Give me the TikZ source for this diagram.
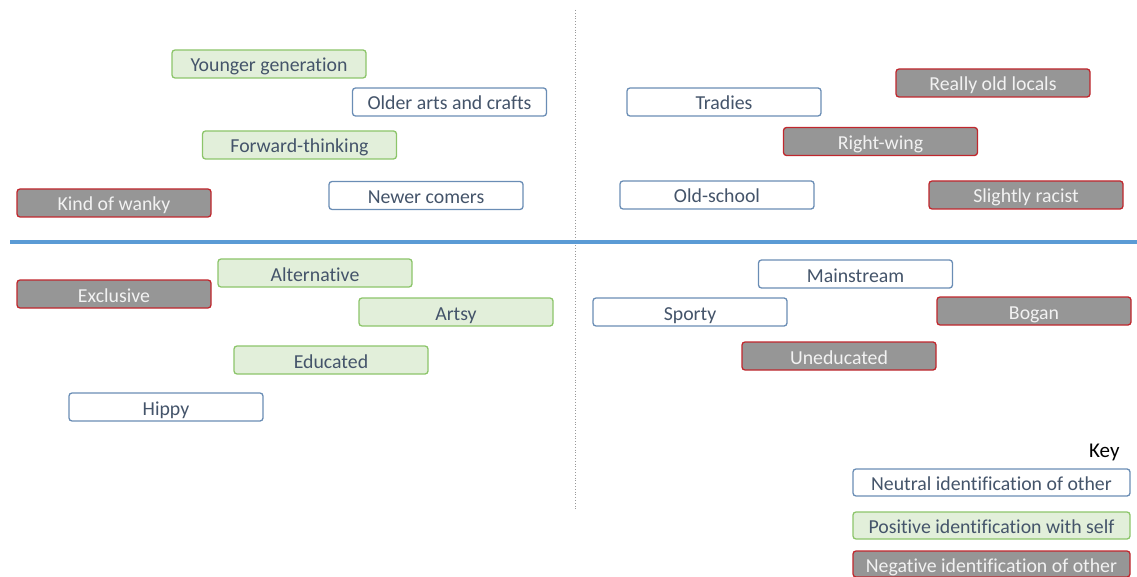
\documentclass[tikz,border=0pt]{standalone}
\usepackage{fontspec}
\setmainfont[Ligatures=NoCommon]{Carlito}
\definecolor{neutb}{HTML}{6A8DB5}
\definecolor{txt}{HTML}{44546A}
\definecolor{posf}{HTML}{E2EFDA}
\definecolor{posb}{HTML}{8CC56A}
\definecolor{negf}{HTML}{969696}
\definecolor{negb}{HTML}{C0272D}
\definecolor{axis}{HTML}{5B9BD5}
\tikzset{
  tagbox/.style={rounded corners=3pt, line width=1.3pt, minimum width=194pt, minimum height=28pt, inner sep=0pt, text height=16pt, text depth=0pt, font=\fontsize{19.8}{22}\selectfont},
  neutbox/.style={tagbox, draw=neutb, fill=white, text=txt},
  posbox/.style={tagbox, draw=posb, fill=posf, text=txt},
  negbox/.style={tagbox, draw=negb, fill=negf, text=white!95!black},
}
\begin{document}
\begin{tikzpicture}[x=1pt,y=-1pt]
\useasboundingbox (0,0) rectangle (1137,577);
\coordinate (vt) at (575,10);
\coordinate (vb) at (575,510);
\coordinate (hl) at (10,242);
\coordinate (hr) at (1137,242);
\draw[gray!80, line width=0.8pt, dotted] (vt) -- (vb);
\draw[axis, line width=4.5pt] (hl) -- (hr);
% top left
\node[posbox]  (yg) at (269,64) {Younger generation};
\node[neutbox] (oac) at (449.5,102) {Older arts and crafts};
\node[posbox]  (ft) at (299.5,145) {Forward-thinking};
\node[negbox] (kw) at (114,203) {Kind of wanky};
\node[neutbox] (nc) at (426,195.5) {Newer comers};
% top right
\node[neutbox] (tr) at (724,102) {Tradies};
\node[negbox] (rol) at (993,83) {Really old locals};
\node[negbox] (rw) at (880.5,141.5) {Right-wing};
\node[neutbox] (os) at (717,195) {Old-school};
\node[negbox] (sr) at (1026,195) {Slightly racist};
% bottom left
\node[posbox]  (alt) at (315,273) {Alternative};
\node[negbox] (exc) at (114,294) {Exclusive};
\node[posbox]  (art) at (456,312) {Artsy};
\node[posbox]  (edu) at (331,360) {Educated};
\node[neutbox] (hip) at (166,407) {Hippy};
% bottom right
\node[neutbox] (ms) at (855.5,274) {Mainstream};
\node[neutbox] (sp) at (690,312) {Sporty};
\node[negbox] (bog) at (1034,311) {Bogan};
\node[negbox] (une) at (839,356) {Uneducated};
% key
\node[anchor=east, font=\fontsize{21}{24}\selectfont, text=black] (key) at (1123,452) {Key};
\node[neutbox, minimum width=277pt, minimum height=27pt] (kn) at (991.5,482.5) {Neutral identification of other};
\node[posbox, minimum width=277pt, minimum height=27pt] (kp) at (991.5,525.5) {Positive identification with self};
\node[negbox, minimum width=277pt, minimum height=26pt] (kneg) at (991.5,564) {Negative identification of other};
\end{tikzpicture}
\end{document}
